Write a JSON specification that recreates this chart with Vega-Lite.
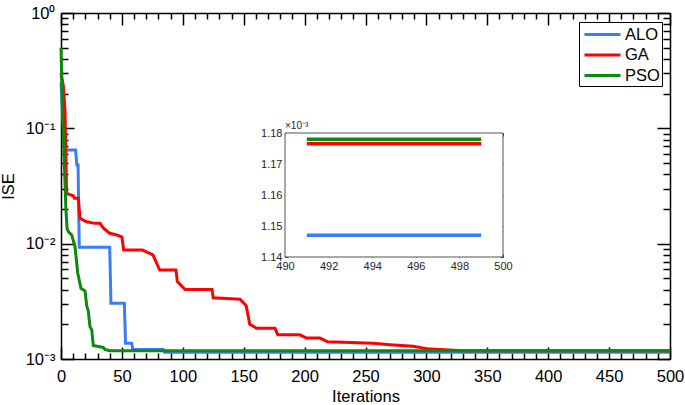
{
  "$schema": "https://vega.github.io/schema/vega-lite/v6.json",
  "width": 609,
  "height": 346,
  "autosize": {"type": "none"},
  "padding": {"left": 61, "top": 13, "right": 15, "bottom": 46},
  "background": "white",
  "config": {
    "view": {"stroke": null},
    "font": "Liberation Sans",
    "axis": {"domainColor": "black", "tickColor": "black", "labelColor": "black", "titleColor": "black", "grid": false, "labelFont": "Liberation Sans", "titleFont": "Liberation Sans", "titleFontWeight": "normal"}
  },
  "data": {"values": [
    {"alg": "ALO", "x": 0, "y": 0.25}, {"alg": "ALO", "x": 3, "y": 0.065}, {"alg": "ALO", "x": 12, "y": 0.065}, {"alg": "ALO", "x": 13, "y": 0.048}, {"alg": "ALO", "x": 14, "y": 0.048}, {"alg": "ALO", "x": 15, "y": 0.0093}, {"alg": "ALO", "x": 40, "y": 0.0093}, {"alg": "ALO", "x": 41, "y": 0.00305}, {"alg": "ALO", "x": 52, "y": 0.00305}, {"alg": "ALO", "x": 53, "y": 0.00137}, {"alg": "ALO", "x": 58, "y": 0.00137}, {"alg": "ALO", "x": 59, "y": 0.00121}, {"alg": "ALO", "x": 84, "y": 0.00121}, {"alg": "ALO", "x": 85, "y": 0.001147}, {"alg": "ALO", "x": 491, "y": 0.001147}, {"alg": "ALO", "x": 499, "y": 0.001147}, {"alg": "ALO", "x": 500, "y": 0.001147},
    {"alg": "GA", "x": 0, "y": 0.3}, {"alg": "GA", "x": 2, "y": 0.23}, {"alg": "GA", "x": 3.3, "y": 0.14}, {"alg": "GA", "x": 4.6, "y": 0.0273}, {"alg": "GA", "x": 10, "y": 0.026}, {"alg": "GA", "x": 11, "y": 0.0248}, {"alg": "GA", "x": 14.2, "y": 0.0248}, {"alg": "GA", "x": 15.6, "y": 0.0166}, {"alg": "GA", "x": 21, "y": 0.0155}, {"alg": "GA", "x": 28, "y": 0.015}, {"alg": "GA", "x": 32, "y": 0.015}, {"alg": "GA", "x": 34.7, "y": 0.0137}, {"alg": "GA", "x": 40, "y": 0.0123}, {"alg": "GA", "x": 45.7, "y": 0.0119}, {"alg": "GA", "x": 50, "y": 0.0114}, {"alg": "GA", "x": 51.5, "y": 0.0088}, {"alg": "GA", "x": 67, "y": 0.0088}, {"alg": "GA", "x": 72, "y": 0.0083}, {"alg": "GA", "x": 75.5, "y": 0.008}, {"alg": "GA", "x": 81, "y": 0.0059}, {"alg": "GA", "x": 94.4, "y": 0.0059}, {"alg": "GA", "x": 95.5, "y": 0.0047}, {"alg": "GA", "x": 102, "y": 0.004}, {"alg": "GA", "x": 124, "y": 0.004}, {"alg": "GA", "x": 125, "y": 0.0034}, {"alg": "GA", "x": 147, "y": 0.0033}, {"alg": "GA", "x": 152, "y": 0.0029}, {"alg": "GA", "x": 155, "y": 0.002}, {"alg": "GA", "x": 160.6, "y": 0.00185}, {"alg": "GA", "x": 175.7, "y": 0.00185}, {"alg": "GA", "x": 178, "y": 0.00162}, {"alg": "GA", "x": 196, "y": 0.00162}, {"alg": "GA", "x": 201.7, "y": 0.00152}, {"alg": "GA", "x": 212.6, "y": 0.00152}, {"alg": "GA", "x": 219, "y": 0.00141}, {"alg": "GA", "x": 256, "y": 0.00137}, {"alg": "GA", "x": 270, "y": 0.00133}, {"alg": "GA", "x": 289, "y": 0.00129}, {"alg": "GA", "x": 300, "y": 0.00123}, {"alg": "GA", "x": 311, "y": 0.00121}, {"alg": "GA", "x": 330, "y": 0.0011765}, {"alg": "GA", "x": 491, "y": 0.0011765}, {"alg": "GA", "x": 499, "y": 0.0011765}, {"alg": "GA", "x": 500, "y": 0.0011765},
    {"alg": "PSO", "x": 0, "y": 0.5}, {"alg": "PSO", "x": 1.5, "y": 0.12}, {"alg": "PSO", "x": 4, "y": 0.02}, {"alg": "PSO", "x": 5, "y": 0.0135}, {"alg": "PSO", "x": 6, "y": 0.0127}, {"alg": "PSO", "x": 8.8, "y": 0.0119}, {"alg": "PSO", "x": 11.5, "y": 0.0094}, {"alg": "PSO", "x": 13.7, "y": 0.0056}, {"alg": "PSO", "x": 16.4, "y": 0.0041}, {"alg": "PSO", "x": 19.7, "y": 0.0039}, {"alg": "PSO", "x": 21.1, "y": 0.0029}, {"alg": "PSO", "x": 22.4, "y": 0.0026}, {"alg": "PSO", "x": 23.8, "y": 0.0019}, {"alg": "PSO", "x": 25.2, "y": 0.0018}, {"alg": "PSO", "x": 26.5, "y": 0.00131}, {"alg": "PSO", "x": 34.7, "y": 0.00126}, {"alg": "PSO", "x": 36, "y": 0.00121}, {"alg": "PSO", "x": 40, "y": 0.001178}, {"alg": "PSO", "x": 491, "y": 0.001178}, {"alg": "PSO", "x": 499, "y": 0.001178}, {"alg": "PSO", "x": 500, "y": 0.001178}
  ]},
  "resolve": {"scale": {"x": "independent", "y": "independent"}, "axis": {"x": "independent", "y": "independent"}},
  "layer": [
    {
      "mark": {"type": "line", "strokeWidth": 3},
      "encoding": {
        "x": {"field": "x", "type": "quantitative", "scale": {"domain": [0, 500], "nice": false, "zero": false},
          "axis": {"orient": "bottom", "values": [0, 50, 100, 150, 200, 250, 300, 350, 400, 450, 500], "tickSize": -12, "tickWidth": 1.5, "domainWidth": 1.5, "labelFontSize": 16.5, "labelPadding": 21, "labelFlush": false, "title": "Iterations", "titleFontSize": 16.5, "titlePadding": 4}},
        "y": {"field": "y", "type": "quantitative", "scale": {"type": "log", "domain": [0.001, 1], "nice": false},
          "axis": {"orient": "left", "values": [0.001, 0.01, 0.1, 1], "labelExpr": "datum.value > 0.5 ? '10⁰' : datum.value > 0.05 ? '10⁻¹' : datum.value > 0.005 ? '10⁻²' : '10⁻³'", "tickSize": -13, "tickWidth": 1.5, "domainWidth": 1.5, "labelFontSize": 16.5, "labelPadding": 19, "labelFlush": false, "title": "ISE", "titleFontSize": 16.5, "titlePadding": 9}},
        "color": {"field": "alg", "type": "nominal", "scale": {"domain": ["ALO", "GA", "PSO"], "range": ["#3A7DF5", "#FF0000", "#0B8A0B"]},
          "legend": {"orient": "none", "legendX": 518, "legendY": 9, "title": null, "symbolType": "M-2,0H2", "symbolStrokeWidth": 3, "symbolSize": 324, "symbolOffset": 11, "labelFontSize": 16.5, "labelFont": "Liberation Sans", "labelColor": "black", "labelAlign": "left", "strokeColor": "black", "fillColor": "white", "padding": 2, "rowPadding": 1.5, "labelOffset": 12}}
      }
    },
    {
      "transform": [{"aggregate": [{"op": "count", "as": "n"}]}],
      "mark": {"type": "point", "opacity": 0},
      "encoding": {
        "x": {"datum": 0, "type": "quantitative", "scale": {"domain": [0, 500], "nice": false, "zero": false},
          "axis": {"orient": "bottom", "values": [10, 20, 30, 40, 60, 70, 80, 90, 110, 120, 130, 140, 160, 170, 180, 190, 210, 220, 230, 240, 260, 270, 280, 290, 310, 320, 330, 340, 360, 370, 380, 390, 410, 420, 430, 440, 460, 470, 480, 490], "tickSize": -6, "tickWidth": 1.5, "labels": false, "domain": false, "title": null}},
        "y": {"datum": 0.5, "type": "quantitative", "scale": {"type": "log", "domain": [0.001, 1], "nice": false},
          "axis": {"orient": "left", "values": [0.002, 0.003, 0.004, 0.005, 0.006, 0.007, 0.008, 0.009, 0.02, 0.03, 0.04, 0.05, 0.06, 0.07, 0.08, 0.09, 0.2, 0.3, 0.4, 0.5, 0.6, 0.7, 0.8, 0.9], "tickSize": -7, "tickWidth": 1.5, "labels": false, "domain": false, "title": null}}
      }
    },
    {
      "transform": [{"aggregate": [{"op": "count", "as": "n"}]}],
      "mark": {"type": "point", "opacity": 0},
      "encoding": {
        "x": {"datum": 0, "type": "quantitative", "scale": {"domain": [0, 500], "nice": false, "zero": false},
          "axis": {"orient": "top", "values": [0, 50, 100, 150, 200, 250, 300, 350, 400, 450, 500], "tickSize": -12, "tickWidth": 1.5, "domainWidth": 1.5, "labels": false, "title": null}},
        "y": {"datum": 0.5, "type": "quantitative", "scale": {"type": "log", "domain": [0.001, 1], "nice": false},
          "axis": {"orient": "right", "values": [0.001, 0.01, 0.1, 1], "tickSize": -13, "tickWidth": 1.5, "domainWidth": 1.5, "labels": false, "title": null}}
      }
    },
    {
      "transform": [{"aggregate": [{"op": "count", "as": "n"}]}],
      "mark": {"type": "point", "opacity": 0},
      "encoding": {
        "x": {"datum": 0, "type": "quantitative", "scale": {"domain": [0, 500], "nice": false, "zero": false},
          "axis": {"orient": "top", "values": [10, 20, 30, 40, 60, 70, 80, 90, 110, 120, 130, 140, 160, 170, 180, 190, 210, 220, 230, 240, 260, 270, 280, 290, 310, 320, 330, 340, 360, 370, 380, 390, 410, 420, 430, 440, 460, 470, 480, 490], "tickSize": -6, "tickWidth": 1.5, "labels": false, "domain": false, "title": null}},
        "y": {"datum": 0.5, "type": "quantitative", "scale": {"type": "log", "domain": [0.001, 1], "nice": false},
          "axis": {"orient": "right", "values": [0.002, 0.003, 0.004, 0.005, 0.006, 0.007, 0.008, 0.009, 0.02, 0.03, 0.04, 0.05, 0.06, 0.07, 0.08, 0.09, 0.2, 0.3, 0.4, 0.5, 0.6, 0.7, 0.8, 0.9], "tickSize": -7, "tickWidth": 1.5, "labels": false, "domain": false, "title": null}}
      }
    },
    {
      "transform": [{"aggregate": [{"op": "count", "as": "n"}]}],
      "mark": {"type": "rect", "fill": "white", "stroke": "#262626", "strokeWidth": 0.8},
      "encoding": {
        "x": {"datum": 490, "type": "quantitative", "scale": {"domain": [490, 500], "range": [224, 442], "nice": false, "zero": false}, "axis": null},
        "x2": {"datum": 500},
        "y": {"datum": 0.00114, "type": "quantitative", "scale": {"domain": [0.00114, 0.00118], "range": [244, 120], "nice": false, "zero": false}, "axis": null},
        "y2": {"datum": 0.00118}
      }
    },
    {
      "transform": [{"aggregate": [{"op": "count", "as": "n"}]}],
      "mark": {"type": "point", "opacity": 0},
      "encoding": {
        "x": {"datum": 490, "type": "quantitative", "scale": {"domain": [490, 500], "range": [224, 442], "nice": false, "zero": false},
          "axis": {"orient": "top", "offset": -120, "values": [490, 492, 494, 496, 498, 500], "tickSize": -3, "tickWidth": 0.8, "tickColor": "#262626", "labels": false, "domain": false, "title": null}},
        "y": {"datum": 0.00114, "type": "quantitative", "scale": {"domain": [0.00114, 0.00118], "range": [244, 120], "nice": false, "zero": false},
          "axis": {"orient": "right", "offset": -167, "values": [0.00114, 0.00115, 0.00116, 0.00117, 0.00118], "tickSize": -3, "tickWidth": 0.8, "tickColor": "#262626", "labels": false, "domain": false, "title": null}}
      }
    },
    {
      "transform": [{"filter": "datum.x >= 491 && datum.x <= 499"}],
      "mark": {"type": "line", "strokeWidth": 3.5},
      "encoding": {
        "x": {"field": "x", "type": "quantitative", "scale": {"domain": [490, 500], "range": [224, 442], "nice": false, "zero": false},
          "axis": {"orient": "bottom", "offset": -102, "values": [490, 492, 494, 496, 498, 500], "tickSize": -3, "tickWidth": 0.8, "tickColor": "#262626", "domain": false, "labelFontSize": 11, "labelColor": "#262626", "labelPadding": 6, "labelFlush": false, "title": null}},
        "y": {"field": "y", "type": "quantitative", "scale": {"domain": [0.00114, 0.00118], "range": [244, 120], "nice": false, "zero": false},
          "axis": {"orient": "left", "offset": -224, "values": [0.00114, 0.00115, 0.00116, 0.00117, 0.00118], "labelExpr": "format(datum.value * 1000, '.2f')", "tickSize": -3, "tickWidth": 0.8, "tickColor": "#262626", "domain": false, "labelFontSize": 11, "labelColor": "#262626", "labelPadding": 6, "labelFlush": false, "title": null}},
        "color": {"field": "alg", "type": "nominal", "scale": {"domain": ["ALO", "GA", "PSO"], "range": ["#3A7DF5", "#FF0000", "#0B8A0B"]}}
      }
    },
    {
      "transform": [{"aggregate": [{"op": "count", "as": "n"}]}],
      "mark": {"type": "text", "text": "×10⁻³", "fontSize": 10, "color": "#262626", "align": "left", "baseline": "bottom", "dy": -2},
      "encoding": {
        "x": {"datum": 490, "type": "quantitative", "scale": {"domain": [490, 500], "range": [224, 442], "nice": false, "zero": false}, "axis": null},
        "y": {"datum": 0.00118, "type": "quantitative", "scale": {"domain": [0.00114, 0.00118], "range": [244, 120], "nice": false, "zero": false}, "axis": null}
      }
    }
  ]
}
